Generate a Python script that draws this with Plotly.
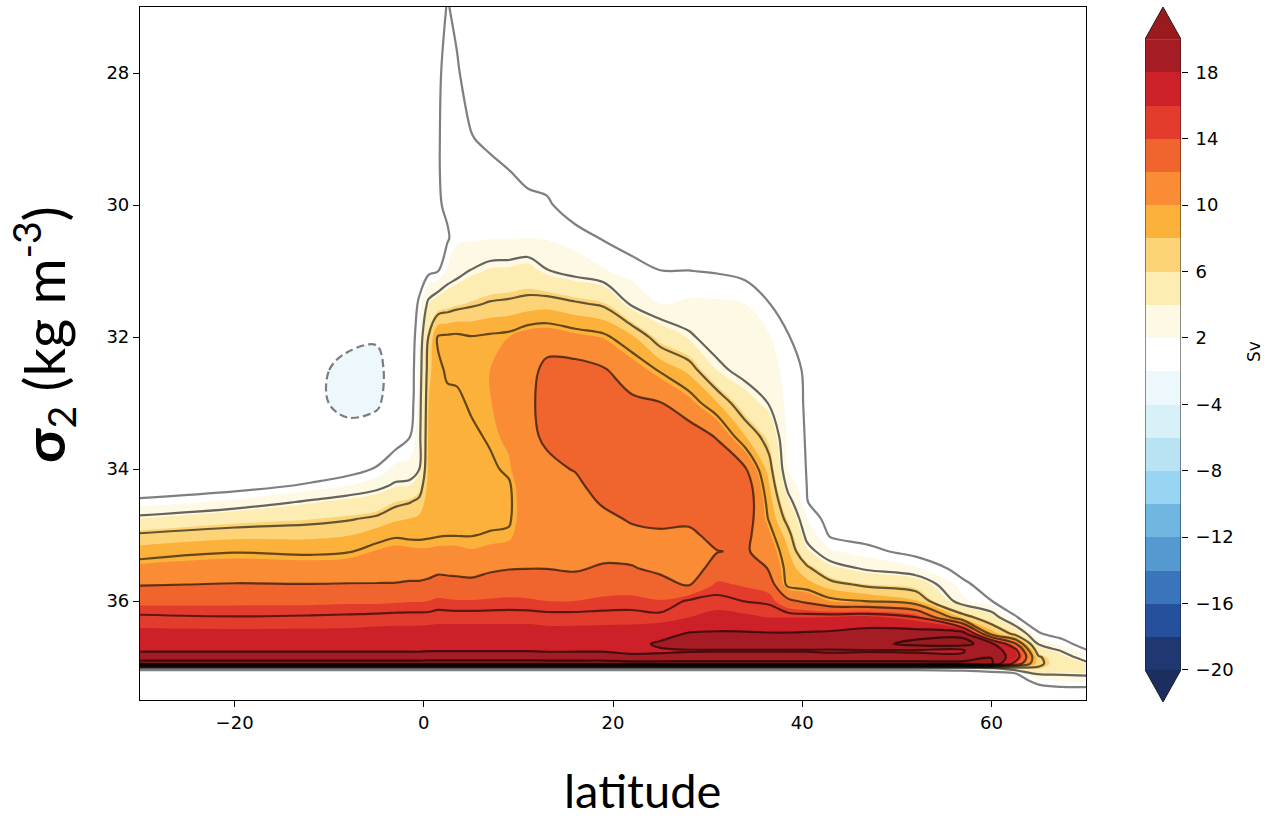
import numpy as np
import plotly.graph_objects as go

# ---------------- data ----------------
lat = [-30, -20, -12, -8, -5, -3, -1.5, -0.5, 0.5, 1.5, 2.5, 3.5, 5, 7, 9, 11, 13, 16, 19, 22,
       25, 28, 31, 34, 36.5, 38.5, 40.5, 43, 47, 52, 57, 60, 62.5, 65, 67.5, 70]

sigma = [27.0, 28.0, 29.0, 29.5, 30.0, 30.5, 31.0, 31.5, 32.0, 32.5, 33.0, 33.5,
         34.0, 34.25, 34.5, 34.75, 35.0, 35.25, 35.5, 35.75, 36.0, 36.25,
         36.5, 36.65, 36.75, 36.85, 36.95, 37.02, 37.1, 37.2, 37.3, 37.5]

# streamfunction (Sv) along sigma2 at each latitude
col_m30 = [0]*12 + [0, 0, 1.3, 4.0, 6.8, 8.7, 10.4, 11.9, 13.5, 15.3] + [16.4, 17.2, 17.8, 18.9, 21, 1.5, 0, 0, 0, 0]
col_m20 = [0]*12 + [0, 0.3, 2.3, 5.3, 7.5, 9.4, 10.8, 12.1, 13.6, 15.1] + [16.4, 17.2, 17.8, 18.9, 21, 1.5, 0, 0, 0, 0]
col_m12 = [0, 0, 0, 0, 0, 0, 0, 0, 0, -0.5, -0.5, 0] + [0, 1.2, 3.8, 5.9, 7.6, 9.2, 10.7, 12.05, 13.6, 15.2] + [16.4, 17.2, 17.8, 18.9, 21, 1.5, 0, 0, 0, 0]
col_m8 = [0, 0, 0, 0, 0, 0, 0, 0, -0.8, -3.5, -3.6, 0] + [0.3, 2.0, 4.5, 6.3, 7.9, 9.4, 10.8, 12.1, 13.7, 15.3] + [16.4, 17.2, 17.8, 18.9, 21, 1.5, 0, 0, 0, 0]
col_m5 = [0, 0, 0, 0, 0, 0, 0, 0, -1.6, -3.2, -2.6, 0] + [1.1, 2.9, 5.0, 6.8, 8.9, 10.1, 11.0, 12.1, 13.7, 15.4] + [16.5, 17.2, 17.8, 18.9, 21, 1.5, 0, 0, 0, 0]
col_m3 = [0]*12 + [2.4, 3.8, 6.0, 7.7, 9.3, 10.4, 11.2, 12.1, 13.8, 15.5] + [16.5, 17.2, 17.8, 18.9, 21, 1.5, 0, 0, 0, 0]
col_m1_5 = [0]*11 + [0.9] + [2.5, 4.0, 6.4, 8.0, 9.2, 10.3, 11.3, 12.2, 13.9, 15.5] + [16.5, 17.2, 17.8, 18.9, 21, 1.5, 0, 0, 0, 0]
col_m0_5 = [0, 0, 0, 0, 0, 0, 0.3, 1.2, 1.8, 2.2, 2.5, 2.8] + [3.4, 5.2, 7.0, 8.3, 9.2, 10.2, 11.3, 12.2, 13.9, 15.5] + [16.5, 17.2, 17.8, 18.9, 21, 1.5, 0, 0, 0, 0]
col_p0_5 = [0, 0, 0, 0, 0, 0, 0.6, 4.0, 6.6, 7.5, 8.0, 8.2] + [8.4, 8.6, 8.8, 9.0, 9.3, 10.2, 11.3, 12.4, 14.0, 15.5] + [16.6, 17.3, 17.9, 19.0, 21, 1.5, 0, 0, 0, 0]
col_p1_5 = [0.3, 0.85, 0.9, 0.9, 0.8, 0.5, 0.95, 5.0, 9.7, 9.2, 8.9, 8.8] + [8.8, 8.8, 8.9, 9.1, 9.4, 10.3, 11.6, 12.6, 14.3, 15.6] + [16.6, 17.3, 17.9, 19.0, 21, 1.5, 0, 0, 0, 0]
col_p2_5 = [1.1, 1.3, 1.4, 1.4, 1.3, 0.8, 2.2, 5.4, 9.8, 9.7, 9.2, 9.0] + [8.9, 8.9, 9.0, 9.2, 9.45, 10.3, 11.5, 12.6, 14.2, 15.6] + [16.6, 17.3, 17.9, 19.0, 21, 1.5, 0, 0, 0, 0]
col_p3_5 = [0.6, 1.2, 1.4, 1.5, 1.6, 1.8, 2.8, 5.8, 9.9, 9.8, 9.2, 9.0] + [9.0, 9.0, 9.1, 9.3, 9.45, 10.3, 11.5, 12.5, 14.1, 15.6] + [16.6, 17.3, 17.9, 19.0, 21, 1.5, 0, 0, 0, 0]
col_p5 = [0, 0.2, 1.1, 1.3, 1.5, 1.8, 3.6, 6.2, 9.6, 9.9, 9.7, 9.2] + [9.0, 9.0, 9.1, 9.25, 9.45, 10.1, 11.3, 12.5, 14.1, 15.6] + [16.6, 17.3, 17.9, 19.0, 21, 1.5, 0, 0, 0, 0]
col_p7 = [0, 0, 0.6, 1.5, 1.6, 1.9, 4.2, 6.7, 9.8, 10.0, 9.95, 9.7] + [9.2, 9.0, 9.0, 9.2, 9.6, 10.3, 11.7, 12.8, 14.2, 15.6] + [16.6, 17.3, 17.9, 19.0, 21, 1.5, 0, 0, 0, 0]
col_p9 = [0, 0, 0.3, 1.05, 1.5, 1.9, 4.3, 6.9, 10.0, 10.4, 10.5, 10.3] + [9.8, 9.3, 9.2, 9.3, 9.7, 10.6, 11.9, 13.0, 14.3, 15.6] + [16.6, 17.3, 17.9, 19.0, 21, 1.5, 0, 0, 0, 0]
col_p11 = [0, 0, 0.1, 0.6, 1.4, 2.0, 4.6, 7.2, 10.8, 11.2, 11.5, 11.6] + [11.5, 11.3, 11.1, 11.0, 11.1, 11.5, 11.95, 13.0, 14.2, 15.6] + [16.6, 17.3, 17.9, 19.0, 21, 1.5, 0, 0, 0, 0]
col_p13 = [0, 0, 0, 0.5, 1.2, 1.9, 3.6, 7.4, 11.0, 12.6, 12.8, 12.3] + [11.6, 11.4, 11.2, 11.1, 11.2, 11.5, 11.95, 12.9, 14.0, 15.5] + [16.5, 17.2, 17.8, 18.9, 21, 1.5, 0, 0, 0, 0]
col_p16 = [0, 0, 0, 0, 0.3, 1.5, 2.8, 6.8, 10.4, 12.8, 13.4, 13.4] + [12.1, 11.6, 11.3, 11.2, 11.2, 11.4, 11.8, 12.7, 14.0, 15.5] + [16.5, 17.2, 17.8, 18.9, 21, 1.5, 0, 0, 0, 0]
col_p19 = [0, 0, 0, 0, 0, 0.9, 2.1, 6.2, 9.9, 12.2, 13.5, 13.8] + [13.3, 12.8, 12.2, 11.6, 11.3, 11.5, 12.2, 13.2, 14.3, 15.5] + [16.6, 17.3, 17.8, 18.9, 21, 1.5, 0, 0, 0, 0]
col_p22 = [0, 0, 0, 0, 0, 0.4, 1.5, 3.2, 8.3, 10.9, 12.4, 13.6] + [13.8, 13.4, 12.9, 12.2, 11.6, 11.5, 12.1, 13.2, 14.4, 15.5] + [16.7, 17.4, 17.8, 18.2, 21, 1.5, 0, 0, 0, 0]
col_p25 = [0, 0, 0, 0, 0, 0.2, 1.02, 2.0, 5.3, 9.3, 12.1, 13.5] + [14.0, 13.9, 13.3, 12.5, 11.7, 11.3, 11.6, 12.6, 14.1, 15.4] + [17.3, 18.3, 17.8, 18.3, 21, 1.5, 0, 0, 0, 0]
col_p28 = [0, 0, 0, 0, 0, 0, 1.02, 2.2, 3.8, 7.6, 10.6, 13.2] + [14.0, 14.0, 13.4, 12.4, 11.6, 11.2, 11.2, 11.8, 15.2, 16.0] + [18.2, 18.8, 17.9, 18.4, 21, 1.5, 0, 0, 0, 0]
col_p31 = [0, 0, 0, 0, 0, 0, 0.9, 2.2, 2.6, 4.0, 8.1, 11.8] + [13.6, 14.0, 14.0, 13.4, 12.6, 11.95, 12.6, 14.3, 15.4, 16.5] + [18.3, 18.9, 17.9, 18.5, 21, 1.5, 0, 0, 0, 0]
col_p34 = [0, 0, 0, 0, 0, 0, 0.6, 2.0, 2.4, 2.8, 4.8, 8.0] + [12.2, 13.5, 13.8, 13.4, 12.6, 12.2, 12.6, 13.8, 14.95, 16.3] + [18.3, 18.9, 17.9, 18.5, 21, 1.5, 0, 0, 0, 0]
col_p36_5 = [0, 0, 0, 0, 0, 0, 0, 1.05, 2.1, 2.6, 3.4, 5.5] + [7.3, 8.1, 8.8, 9.3, 10.3, 11.2, 11.9, 13.2, 14.7, 16.0] + [18.2, 18.9, 17.9, 18.5, 21, 1.5, 0, 0, 0, 0]
col_p38_5 = [0, 0, 0, 0, 0, 0, 0, 0, 1.1, 1.5, 1.6, 1.7] + [1.9, 2.9, 4.3, 5.7, 7.2, 8.2, 8.8, 9.0, 12.5, 16.0] + [18.2, 19.0, 17.9, 18.5, 21, 1.5, 0, 0, 0, 0]
col_p40_5 = [0, 0, 0, 0, 0, 0, 0, 0, 0.3, 0.8, 0.85, 0.9] + [0.95, 0.98, 1.05, 2.0, 2.9, 4.3, 6.9, 8.6, 11.5, 16.0] + [18.3, 19.1, 17.9, 18.5, 21, 1.5, 0, 0, 0, 0]
col_p43 = [0]*12 + [0, 0, 0, 0.3, 0.8, 2.2, 4.4, 7.2, 10.0, 16.2] + [18.4, 19.2, 17.8, 18.4, 21, 1.5, 0, 0, 0, 0]
col_p47 = [0]*12 + [0, 0, 0, 0, 0.4, 1.4, 3.1, 6.0, 9.4, 16.6] + [18.8, 19.3, 17.9, 18.4, 21, 1.5, 0, 0, 0, 0]
col_p52 = [0]*12 + [0, 0, 0, 0, 0, 0.5, 2.1, 5.3, 8.2, 15.2] + [19.2, 20.6, 17.8, 18.4, 21, 1.5, 0, 0, 0, 0]
col_p57 = [0]*12 + [0, 0, 0, 0, 0, 0, 0.4, 1.3, 2.3, 7.6] + [19.5, 20.7, 17.8, 18.4, 21, 1.8, 0, 0, 0, 0]
col_p60 = [0]*12 + [0, 0, 0, 0, 0, 0, 0, 0.3, 1.02, 4.8] + [9.0, 18.8, 19.8, 19.9, 20.5, 3.0, 0, 0, 0, 0]
col_p62_5 = [0]*12 + [0, 0, 0, 0, 0, 0, 0, 0, 0.3, 1.1] + [6.0, 12.5, 16.0, 16.8, 14.0, 5.0, 0.8, 0, 0, 0]
col_p65 = [0]*12 + [0, 0, 0, 0, 0, 0, 0, 0, 0, 0.3] + [1.1, 3.3, 5.0, 6.8, 7.0, 6.2, 3.8, 1.8, 0.6, 0]
col_p67_5 = [0]*12 + [0]*10 + [0.6, 1.4, 3.3, 4.4, 4.8, 4.8, 3.8, 2.2, 1.02, 0]
col_p70 = [0]*12 + [0]*10 + [0, 0.5, 1.1, 2.6, 4.0, 4.6, 4.0, 2.4, 1.02, 0]

columns = [col_m30, col_m20, col_m12, col_m8, col_m5, col_m3, col_m1_5, col_m0_5, col_p0_5,
           col_p1_5, col_p2_5, col_p3_5, col_p5, col_p7, col_p9, col_p11, col_p13, col_p16,
           col_p19, col_p22, col_p25, col_p28, col_p31, col_p34, col_p36_5, col_p38_5,
           col_p40_5, col_p43, col_p47, col_p52, col_p57, col_p60, col_p62_5, col_p65,
           col_p67_5, col_p70]

# contour line levels (Sv) drawn over the filled field
outer_level = [1]
line_levels = [3.5, 6.5, 9.5, 12, 15, 18, 20]
neg_levels = [-2]

# colour of each 2-Sv band, from the (-22,-20) "under" band up to the (20,22) "over" band
band_colors = ["rgb(28,45,95)", "rgb(31,56,113)", "rgb(36,80,156)", "rgb(58,117,187)",
               "rgb(84,153,208)", "rgb(111,182,225)", "rgb(152,213,242)", "rgb(185,226,243)",
               "rgb(216,240,248)", "rgb(237,248,252)", "rgb(255,255,255)", "rgb(255,255,255)",
               "rgb(254,249,228)", "rgb(253,237,178)", "rgb(253,211,120)", "rgb(252,178,58)",
               "rgb(249,140,53)", "rgb(240,100,45)", "rgb(228,60,44)", "rgb(205,32,41)",
               "rgb(165,28,36)", "rgb(155,26,30)"]

# colour bar: 19 uniform boxes (the -2..2 box is merged), ticks at box edges
cbar_colors = ["rgb(31,56,113)", "rgb(36,80,156)", "rgb(58,117,187)", "rgb(84,153,208)",
               "rgb(111,182,225)", "rgb(152,213,242)", "rgb(185,226,243)", "rgb(216,240,248)",
               "rgb(237,248,252)", "rgb(255,255,255)", "rgb(254,249,228)", "rgb(253,237,178)",
               "rgb(253,211,120)", "rgb(252,178,58)", "rgb(249,140,53)", "rgb(240,100,45)",
               "rgb(228,60,44)", "rgb(205,32,41)", "rgb(165,28,36)"]
cbar_over = "rgb(155,26,30)"
cbar_under = "rgb(28,45,95)"
cbar_tick_pos = [0, 2, 4, 6, 8, 10, 12, 14, 16, 18]
cbar_tick_text = ["\u221220", "\u221216", "\u221212", "\u22128", "\u22124", "2", "6", "10", "14", "18"]

x_ticks = [-20, 0, 20, 40, 60]
x_tick_text = ["\u221220", "0", "20", "40", "60"]
y_ticks = [28, 30, 32, 34, 36]

# ---------------- figure ----------------
for c in columns:
    assert len(c) == len(sigma)
z = np.array(columns, dtype=float).T

n_b = len(band_colors)
fill_scale = [[i / (n_b - 1), col] for i, col in enumerate(band_colors)]

fig = go.Figure()

fig.add_trace(go.Contour(
    x=lat, y=sigma, z=z, autocontour=False,
    contours=dict(start=-20, end=20, size=2, coloring="fill", showlines=False),
    colorscale=fill_scale, showscale=False, line=dict(width=0, smoothing=1),
    hoverinfo="skip"))


def add_lines(levels, color, dash="solid"):
    for lev in levels:
        fig.add_trace(go.Contour(
            x=lat, y=sigma, z=z, autocontour=False,
            contours=dict(start=lev, end=lev, size=1, coloring="none"),
            line=dict(color=color, width=2.2, smoothing=1, dash=dash),
            showscale=False, hoverinfo="skip"))


add_lines(outer_level, "rgba(0,0,0,0.5)")
add_lines(line_levels, "rgba(0,0,0,0.6)")
add_lines(neg_levels, "rgba(0,0,0,0.5)", dash="8px,4px")

# colour bar built on its own axes
nbox = len(cbar_colors)
fig.add_trace(go.Heatmap(
    x=[0, 1], y=list(range(nbox + 1)), z=[[i] for i in range(nbox)],
    zmin=0, zmax=nbox - 1,
    colorscale=[[i / (nbox - 1), col] for i, col in enumerate(cbar_colors)],
    showscale=False, xaxis="x2", yaxis="y2", hoverinfo="skip"))
tri = 0.97
fig.add_trace(go.Scatter(x=[0, 1, 0.5, 0], y=[nbox, nbox, nbox + tri, nbox], fill="toself",
                         fillcolor=cbar_over, mode="lines", line=dict(width=0),
                         xaxis="x2", yaxis="y2", hoverinfo="skip", showlegend=False))
fig.add_trace(go.Scatter(x=[0, 1, 0.5, 0], y=[0, 0, -tri, 0], fill="toself",
                         fillcolor=cbar_under, mode="lines", line=dict(width=0),
                         xaxis="x2", yaxis="y2", hoverinfo="skip", showlegend=False))
fig.add_trace(go.Scatter(x=[0, 0.5, 1, 1, 0.5, 0, 0], y=[0, -tri, 0, nbox, nbox + tri, nbox, 0],
                         mode="lines", line=dict(color="rgb(30,30,30)", width=1),
                         xaxis="x2", yaxis="y2", hoverinfo="skip", showlegend=False))

W, H = 1266, 819
ml, mr, mt, mb = 140, 20, 7, 117
pw = W - ml - mr
ph = H - mt - mb


def px_x(p):
    return (p - ml) / pw


def px_y(p):
    return (H - mb - p) / ph


tick_font = dict(family="DejaVu Sans", size=18, color="black")

fig.update_layout(
    width=W, height=H, margin=dict(l=ml, r=mr, t=mt, b=mb),
    paper_bgcolor="white", plot_bgcolor="white", showlegend=False,
    xaxis=dict(domain=[0, px_x(1086)], range=[-30, 70], tickvals=x_ticks, ticktext=x_tick_text,
               showline=True, mirror=True, linecolor="black", linewidth=1.2,
               ticks="outside", ticklen=6, tickwidth=1.2, tickcolor="black",
               tickfont=tick_font, showgrid=False, zeroline=False),
    yaxis=dict(domain=[px_y(700), 1], range=[37.5, 27.0], tickvals=y_ticks,
               showline=True, mirror=True, linecolor="black", linewidth=1.2,
               ticks="outside", ticklen=6, tickwidth=1.2, tickcolor="black",
               tickfont=tick_font, showgrid=False, zeroline=False),
    xaxis2=dict(domain=[px_x(1145), px_x(1181)], range=[0, 1], visible=False, anchor="y2"),
    yaxis2=dict(domain=[0, 1], range=[-tri, nbox + tri], anchor="x2", side="right",
                tickvals=cbar_tick_pos, ticktext=cbar_tick_text, ticks="outside",
                ticklen=6, tickwidth=1.2, tickcolor="black", tickfont=tick_font,
                ticklabelstandoff=4,
                showline=False, showgrid=False, zeroline=False),
    annotations=[
        dict(text="latitude", x=px_x(642), y=px_y(790), xref="paper", yref="paper",
             showarrow=False, font=dict(family="Lato", size=47, color="black"),
             xanchor="center", yanchor="middle"),
        dict(text="<b>\u03c3</b><sub>2</sub> (kg m<sup>-3</sup>)", x=px_x(43), y=px_y(335),
             xref="paper", yref="paper", showarrow=False,
             font=dict(family="Lato", size=56, color="black"), textangle=-90,
             xanchor="center", yanchor="middle"),
        dict(text="Sv", x=px_x(1254), y=px_y(352), xref="paper", yref="paper",
             showarrow=False, font=dict(family="DejaVu Sans", size=17, color="black"),
             textangle=-90, xanchor="center", yanchor="middle"),
    ],
)

fig.write_html("out.html")
